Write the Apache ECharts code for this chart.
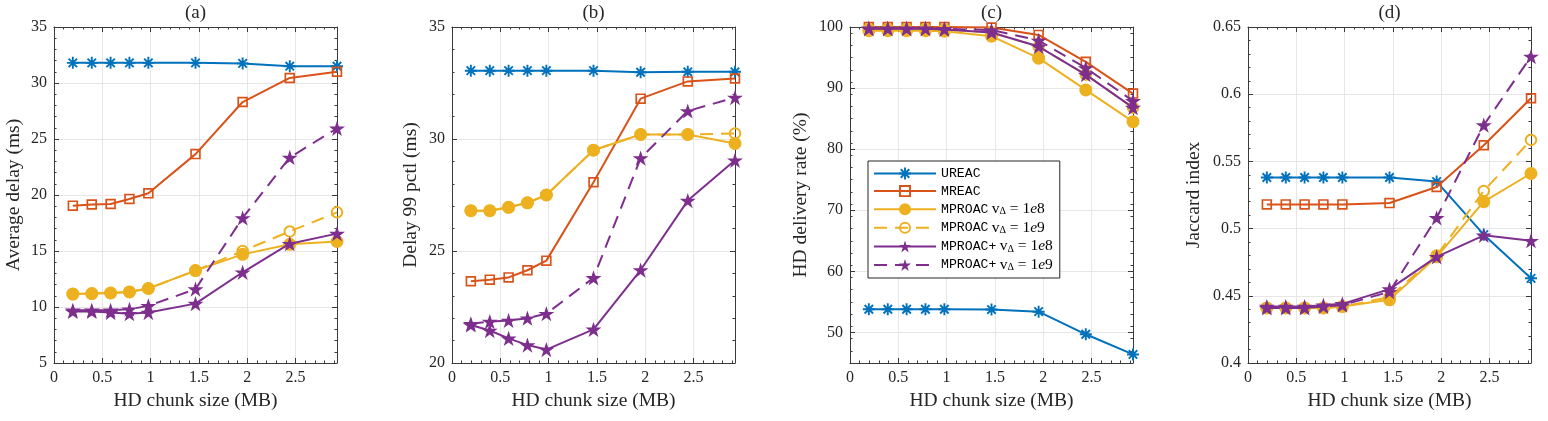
<!DOCTYPE html>
<html>
<head>
<meta charset="utf-8">
<title>HD chunk size</title>
<script src="https://cdn.jsdelivr.net/npm/echarts@6/dist/echarts.min.js"></script>
<style>
  html, body { margin: 0; background: #fff; }
  #chart { width: 1548px; height: 421px; }
</style>
</head>
<body>
<div id="chart"></div>
<script>
// chunk sizes (MB) = 200..3000 kB / 1024
const chunkSize = [0.195, 0.391, 0.586, 0.781, 0.977, 1.465, 1.953, 2.441, 2.930]

// (a) average delay (ms)
const ureacA    = [31.8, 31.8, 31.8, 31.8, 31.8, 31.8, 31.75, 31.5, 31.5]
const mreacA    = [19.05, 19.15, 19.2, 19.65, 20.15, 23.65, 28.3, 30.45, 31.0]
const mproac8A  = [11.15, 11.2, 11.25, 11.35, 11.65, 13.25, 14.7, 15.6, 15.85]
const mproac9A  = [11.15, 11.2, 11.25, 11.35, 11.65, 13.25, 15.0, 16.75, 18.45]
const mproacP8A = [9.6, 9.6, 9.5, 9.4, 9.5, 10.3, 13.1, 15.65, 16.55]
const mproacP9A = [9.7, 9.7, 9.7, 9.8, 10.1, 11.6, 17.95, 23.35, 25.95]

// (b) delay 99 percentile (ms)
const ureacB    = [33.05, 33.05, 33.05, 33.05, 33.05, 33.05, 32.98, 33.0, 33.0]
const mreacB    = [23.65, 23.72, 23.82, 24.14, 24.57, 28.07, 31.8, 32.57, 32.7]
const mproac8B  = [26.8, 26.8, 26.95, 27.15, 27.5, 29.5, 30.2, 30.2, 29.8]
const mproac9B  = [26.8, 26.8, 26.95, 27.15, 27.5, 29.5, 30.2, 30.2, 30.25]
const mproacP8B = [21.7, 21.45, 21.1, 20.8, 20.6, 21.5, 24.15, 27.25, 29.05]
const mproacP9B = [21.75, 21.85, 21.9, 22.0, 22.2, 23.8, 29.15, 31.25, 31.85]

// (c) HD delivery rate (%)
const ureacC    = [53.8, 53.8, 53.8, 53.8, 53.8, 53.75, 53.4, 49.7, 46.4]
const mreacC    = [100, 100, 100, 100, 100, 99.9, 98.7, 94.3, 89.1]
const mproac8C  = [99.4, 99.4, 99.4, 99.4, 99.3, 98.5, 94.9, 89.7, 84.5]
const mproac9C  = [99.7, 99.7, 99.7, 99.7, 99.6, 99.1, 96.8, 92.2, 86.8]
const mproacP8C = [99.7, 99.7, 99.7, 99.7, 99.6, 99.1, 96.8, 92.2, 86.8]
const mproacP9C = [99.8, 99.8, 99.8, 99.8, 99.7, 99.5, 97.8, 93.3, 87.9]

// (d) Jaccard index
const ureacD    = [0.538, 0.538, 0.538, 0.538, 0.538, 0.538, 0.535, 0.4955, 0.463]
const mreacD    = [0.518, 0.518, 0.518, 0.518, 0.518, 0.519, 0.531, 0.562, 0.597]
const mproac8D  = [0.441, 0.441, 0.441, 0.441, 0.442, 0.447, 0.479, 0.520, 0.541]
const mproac9D  = [0.441, 0.441, 0.441, 0.441, 0.442, 0.449, 0.480, 0.528, 0.566]
const mproacP8D = [0.442, 0.442, 0.442, 0.443, 0.444, 0.455, 0.479, 0.495, 0.491]
const mproacP9D = [0.441, 0.441, 0.441, 0.442, 0.443, 0.453, 0.508, 0.577, 0.628]

// tick labels
const xTicks  = [0, 0.5, 1, 1.5, 2, 2.5]
const yTicksA = [5, 10, 15, 20, 25, 30, 35]
const yTicksB = [20, 25, 30, 35]
const yTicksC = [50, 60, 70, 80, 90, 100]
const yTicksD = [0.4, 0.45, 0.5, 0.55, 0.6, 0.65]

const seriesNames = ['UREAC', 'MREAC', 'MPROAC 1e8', 'MPROAC 1e9', 'MPROAC+ 1e8', 'MPROAC+ 1e9']
const legendLabels = {
  'UREAC': '{tt|UREAC}',
  'MREAC': '{tt|MREAC}',
  'MPROAC 1e8': '{tt|MPROAC} {m|v}{s|Δ}{m| = 1}{i|e}{m|8}',
  'MPROAC 1e9': '{tt|MPROAC} {m|v}{s|Δ}{m| = 1}{i|e}{m|9}',
  'MPROAC+ 1e8': '{tt|MPROAC+} {m|v}{s|Δ}{m| = 1}{i|e}{m|8}',
  'MPROAC+ 1e9': '{tt|MPROAC+} {m|v}{s|Δ}{m| = 1}{i|e}{m|9}'
}

const SERIF = '"Liberation Serif", "DejaVu Serif", serif'
const MONO = '"Liberation Mono", "DejaVu Sans Mono", monospace'
const AXIS_COLOR = '#3a3a3a'

// marker shapes (matlab-ish)
const ASTERISK = 'path://M0 42L100 42L100 58L0 58Z M42 0L58 0L58 100L42 100Z ' +
  'M20.3 9L91 79.7L79.7 91L9 20.3Z M9 79.7L79.7 9L91 20.3L20.3 91Z'
const OPEN_SQUARE = 'path://M0 0L100 0L100 100L0 100Z M16 16L16 84L84 84L84 16Z'
const OPEN_CIRCLE = 'path://M50 0A50 50 0 1 1 50 100A50 50 0 1 1 50 0Z M50 16A34 34 0 1 0 50 84A34 34 0 1 0 50 16Z'
const STAR = 'path://M50 0L61.23 34.55L97.55 34.55L68.16 55.9L79.39 90.45L50 69.1L20.61 90.45L31.84 55.9L2.45 34.55L38.77 34.55Z'

const styles = [
  { color: '#0072BD', symbol: ASTERISK, size: 12, dash: 'solid' },
  { color: '#D95319', symbol: OPEN_SQUARE, size: 10.5, dash: 'solid' },
  { color: '#EDB120', symbol: 'circle', size: 13, dash: 'solid' },
  { color: '#EDB120', symbol: OPEN_CIRCLE, size: 12.5, dash: [13, 8] },
  { color: '#7E2F8E', symbol: STAR, size: 16, dash: 'solid' },
  { color: '#7E2F8E', symbol: STAR, size: 16, dash: [13, 8] }
]

const panels = [
  { title: '(a)', yName: 'Average delay (ms)', yMin: 5, yMax: 35, yTicks: yTicksA, yStep: 1, left: 54, nameGap: 30,
    data: [ureacA, mreacA, mproac8A, mproac9A, mproacP8A, mproacP9A] },
  { title: '(b)', yName: 'Delay 99 pctl (ms)', yMin: 20, yMax: 35, yTicks: yTicksB, yStep: 1, left: 452, nameGap: 31,
    data: [ureacB, mreacB, mproac8B, mproac9B, mproacP8B, mproacP9B] },
  { title: '(c)', yName: 'HD delivery rate (%)', yMin: 45, yMax: 100, yTicks: yTicksC, yStep: 2, left: 850, nameGap: 39,
    data: [ureacC, mreacC, mproac8C, mproac9C, mproacP8C, mproacP9C] },
  { title: '(d)', yName: 'Jaccard index', yMin: 0.4, yMax: 0.65, yTicks: yTicksD, yStep: 0.01, left: 1248, nameGap: 44,
    data: [ureacD, mreacD, mproac8D, mproac9D, mproacP8D, mproacP9D] }
]
const X_MAX = 2.93
const PLOT_TOP = 27
const PLOT_W = 283
const PLOT_H = 336

function minorValues(min, max, step, majors) {
  const out = []
  const n = Math.round((max - min) / step)
  for (let k = 0; k <= n; k++) {
    const v = Math.round((min + k * step) * 1e6) / 1e6
    if (majors.indexOf(v) < 0) out.push(v)
  }
  return out
}

// one major + one minor axis for a side of the box
function sideAxes(g, pos, min, max, majors, minors, main, extra) {
  const major = Object.assign({
    type: 'value', gridIndex: g, position: pos, min: min, max: max,
    axisLine: { show: true, onZero: false, lineStyle: { color: AXIS_COLOR, width: 1 } },
    axisTick: { show: true, inside: true, length: 5, customValues: majors, lineStyle: { color: AXIS_COLOR } },
    axisLabel: { show: main, customValues: majors, color: '#262626', fontFamily: SERIF, fontSize: 16, margin: 7 },
    splitLine: { show: main, lineStyle: { color: '#e6e6e6', width: 1 } },
    minorTick: { show: false }
  }, extra || {})
  const minor = {
    type: 'value', gridIndex: g, position: pos, min: min, max: max,
    axisLine: { show: false, onZero: false },
    axisTick: { show: true, inside: true, length: 2.5, customValues: minors, lineStyle: { color: AXIS_COLOR } },
    axisLabel: { show: false },
    splitLine: { show: false }
  }
  return [major, minor]
}

const grids = []
const xAxes = []
const yAxes = []
const series = []
const titles = []

const xMinors = minorValues(0, 2.9, 0.1, xTicks)

panels.forEach((p, g) => {
  grids.push({ left: p.left, top: PLOT_TOP, width: PLOT_W, height: PLOT_H, containLabel: false })
  const yMinors = minorValues(p.yMin, p.yMax, p.yStep, p.yTicks)
  xAxes.push(...sideAxes(g, 'bottom', 0, X_MAX, xTicks, xMinors, true, {
    name: 'HD chunk size (MB)', nameLocation: 'middle', nameGap: 28,
    nameTextStyle: { fontFamily: SERIF, fontSize: 19.5, color: '#262626' }
  }))
  xAxes.push(...sideAxes(g, 'top', 0, X_MAX, xTicks, xMinors, false))
  yAxes.push(...sideAxes(g, 'left', p.yMin, p.yMax, p.yTicks, yMinors, true, {
    name: p.yName, nameLocation: 'middle', nameGap: p.nameGap,
    nameTextStyle: { fontFamily: SERIF, fontSize: 19.5, color: '#262626' }
  }))
  yAxes.push(...sideAxes(g, 'right', p.yMin, p.yMax, p.yTicks, yMinors, false))

  p.data.forEach((vals, s) => {
    const st = styles[s]
    series.push({
      name: seriesNames[s],
      type: 'line',
      xAxisIndex: 4 * g,
      yAxisIndex: 4 * g,
      data: chunkSize.map((x, i) => [x, vals[i]]),
      symbol: st.symbol,
      symbolSize: st.size,
      symbolKeepAspect: true,
      showSymbol: true,
      showAllSymbol: true,
      clip: false,
      itemStyle: { color: st.color },
      lineStyle: { color: st.color, width: 2, type: st.dash },
      emphasis: { disabled: true },
      animation: false,
      z: 2 + s * 0.1
    })
  })

  titles.push({
    type: 'text',
    x: p.left + PLOT_W / 2,
    y: 13,
    style: {
      text: p.title, align: 'center', verticalAlign: 'middle',
      textAlign: 'center', textVerticalAlign: 'middle',
      font: '19px ' + SERIF, fill: '#262626'
    }
  })
})

const chart = echarts.init(document.getElementById('chart'))
chart.setOption({
  backgroundColor: '#fff',
  animation: false,
  grid: grids,
  xAxis: xAxes,
  yAxis: yAxes,
  series: series,
  graphic: titles,
  legend: {
    data: seriesNames,
    orient: 'vertical',
    left: 868,
    top: 161,
    padding: [5, 7, 5, 5],
    itemGap: 2.6,
    itemWidth: 62,
    itemHeight: 15,
    backgroundColor: '#fff',
    borderColor: '#262626',
    borderWidth: 1,
    borderRadius: 0,
    selectedMode: false,
    formatter: name => legendLabels[name],
    textStyle: {
      color: '#000',
      lineHeight: 15,
      rich: {
        tt: { fontFamily: MONO, fontSize: 13.2, lineHeight: 15, color: '#000' },
        m: { fontFamily: SERIF, fontSize: 15.5, lineHeight: 15, color: '#000' },
        i: { fontFamily: SERIF, fontStyle: 'italic', fontSize: 15.5, lineHeight: 15, color: '#000' },
        s: { fontFamily: SERIF, fontSize: 10, lineHeight: 10, verticalAlign: 'bottom', color: '#000' }
      }
    },
    z: 10
  }
})
</script>
</body>
</html>
